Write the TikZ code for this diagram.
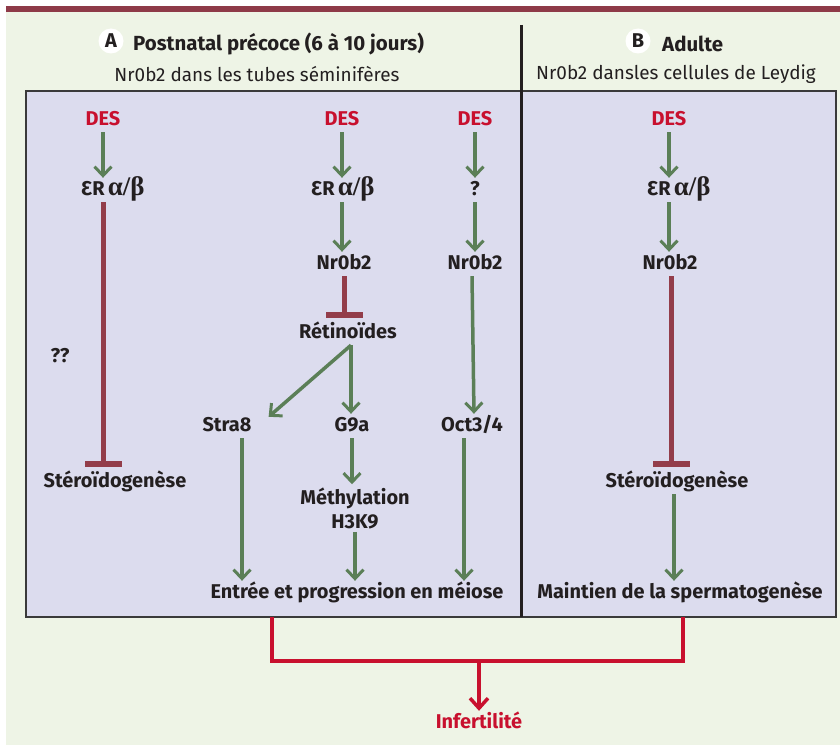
\documentclass[tikz,border=0pt]{standalone}
\usepackage{fontspec}
\setmainfont{Fira Sans}
\newfontfamily\grkf{Liberation Serif}
\usetikzlibrary{arrows.meta}
\definecolor{bggreen}{HTML}{EEF4E6}
\definecolor{boxfill}{HTML}{DCDCEE}
\definecolor{boxline}{HTML}{3A3A3A}
\definecolor{barred}{HTML}{8E3A48}
\definecolor{inhc}{HTML}{933D4A}
\definecolor{greenc}{HTML}{5B7F57}
\definecolor{redc}{HTML}{C8102E}
\definecolor{txt}{HTML}{231F20}
\newcommand{\eralphabeta}{ƐR\,{\grkf\fontsize{27}{27}\selectfont α/β}}
\begin{document}
\begin{tikzpicture}[x=1bp,y=-1bp,
  lbl/.style={font=\fontsize{20}{24}\selectfont\bfseries, text=txt, inner sep=3bp, text height=14bp, text depth=4bp},
  deslbl/.style={lbl, text=redc},
  sub/.style={font=\fontsize{19}{22}\selectfont, text=txt, inner sep=0pt},
  act/.style={draw=greenc, line width=3.5bp, -{Straight Barb[length=9bp,width=17bp,line width=3bp]}},
  inh/.style={draw=inhc, line width=5bp, shorten >=3bp, -{Bar[width=37bp,line width=6bp]}},
  redline/.style={draw=redc, line width=4.5bp},
  redarr/.style={draw=redc, line width=4bp, -{Straight Barb[length=10bp,width=18bp,line width=3.5bp]}},
  badge/.style={circle, fill=white, minimum size=25bp, inner sep=0pt, font=\fontsize{20}{22}\selectfont\bfseries, text=txt},
  title/.style={font=\fontsize{20.5}{22}\selectfont\bfseries, text=txt, inner sep=0pt, anchor=west}
]
\useasboundingbox (0,0) rectangle (840,745);
\fill[white] (0,0) rectangle (840,745);
\fill[bggreen] (6,12) rectangle (840,745);
\fill[barred] (6,6) rectangle (840,12);
\draw[fill=boxfill, draw=boxline, line width=1.5bp] (26,91) rectangle (836,617);
\draw[line width=3bp, txt] (521,25) -- (521,617);

% titles
\node[badge] (ba) at (111,41) {A};
\node[title] (ta) at (133,44) {Postnatal précoce (6 à 10 jours)};
\node[sub] (sa) at (257,74) {Nr0b2 dans les tubes séminifères};
\node[badge] (bb) at (638,41) {B};
\node[title] (tb) at (662,44) {Adulte};
\node[sub] (sb) at (676,74) {Nr0b2 dansles cellules de Leydig};

% column 1
\node[deslbl] (d1) at (103,120) {DES};
\node[lbl] (e1) at (113,190) {\eralphabeta};
\node[lbl] (q1) at (60,357) {??};
\node[lbl] (s1) at (115,482) {Stéroïdogenèse};
\draw[act] (d1.south) -- (d1.south |- e1.north);
\draw[inh] (d1.south |- e1.south) -- (d1.south |- s1.north);

% column 2
\node[deslbl] (d2) at (342,120) {DES};
\node[lbl] (e2) at (343,190) {\eralphabeta};
\node[lbl] (n2) at (344,264) {Nr0b2};
\node[lbl] (r2) at (348,333) {Rétinoïdes};
\node[lbl] (st) at (227,426) {Stra8};
\node[lbl] (g9) at (352,426) {G9a};
\node[lbl, align=center, font=\fontsize{20}{24}\selectfont\bfseries, text height=, text depth=] (me) at (355,508) {Méthylation\\H3K9};
\node[lbl] (en) at (357,593) {Entrée et progression en méiose};
\draw[act] (d2.south) -- (d2.south |- e2.north);
\draw[act] (d2.south |- e2.south) -- (d2.south |- n2.north);
\draw[inh] (n2.south) -- (n2.south |- r2.north);
\draw[act] ([xshift=3bp]r2.south) -- ([xshift=14bp,yshift=-3bp]st.north east);
\draw[act] ([xshift=3bp]r2.south) -- ([xshift=3bp]r2.south |- g9.north);
\draw[act] ([xshift=15bp]st.south) -- ([xshift=15bp]st.south |- en.north);
\draw[act] (g9.south) -- (g9.south |- me.north);
\draw[act] (me.south) -- (me.south |- en.north);

% column 3
\node[deslbl] (d3) at (475,120) {DES};
\node[lbl] (q3) at (475,190) {?};
\node[lbl] (n3) at (475,264) {Nr0b2};
\node[lbl] (oc) at (472,426) {Oct3/4};
\draw[act] (d3.south) -- (q3.north);
\draw[act] (q3.south) -- (n3.north);
\draw[act] ([xshift=-3bp]n3.south) -- ([xshift=2bp]oc.north);
\draw[act] ([xshift=-8bp]oc.south) -- ([xshift=-8bp]oc.south |- en.north);

% column B
\node[deslbl] (d4) at (669,120) {DES};
\node[lbl] (e4) at (679,190) {\eralphabeta};
\node[lbl] (n4) at (670,264) {Nr0b2};
\node[lbl] (s4) at (677,482) {Stéroïdogenèse};
\node[lbl] (ma) at (680,593) {Maintien de la spermatogenèse};
\draw[act] (d4.south) -- (d4.south |- e4.north);
\draw[act] (d4.south |- e4.south) -- (d4.south |- n4.north);
\draw[inh] ([xshift=1bp]n4.south) -- ([xshift=1bp]n4.south |- s4.north);
\draw[act] ([xshift=-3bp]s4.south) -- ([xshift=-3bp]s4.south |- ma.north);

% bottom
\coordinate (bl) at (272,617);
\coordinate (br) at (683,617);
\coordinate (jn) at (479,661);
\node[deslbl] (inf) at (479,723) {Infertilité};
\draw[redline] (bl) |- (jn) -| (br);
\draw[redarr] (jn) -- (inf.north);
\end{tikzpicture}
\end{document}
